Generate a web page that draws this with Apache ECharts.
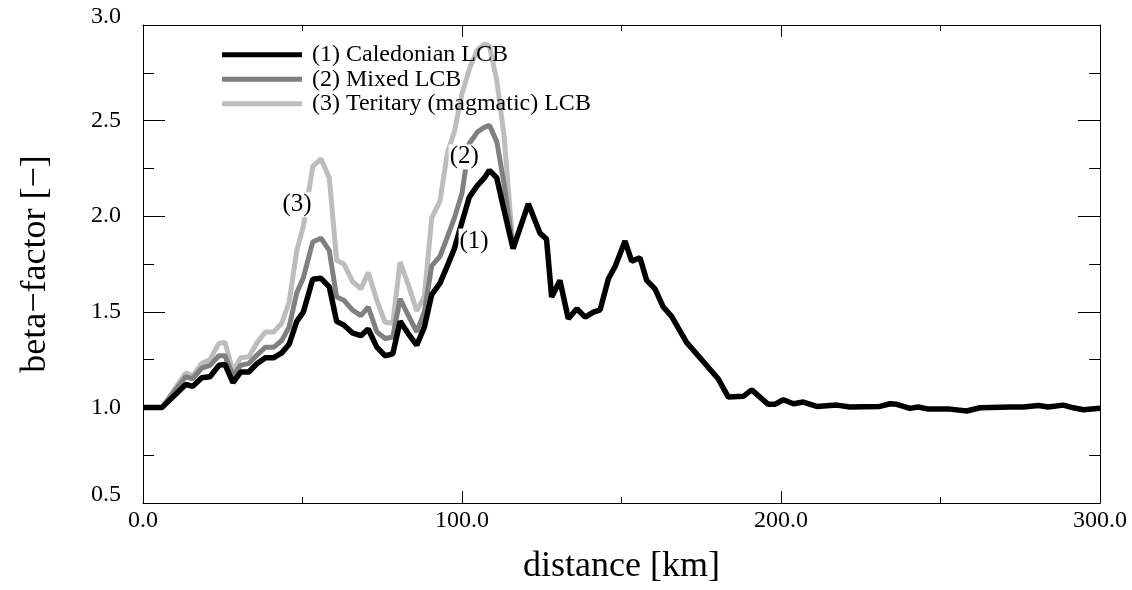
<!DOCTYPE html>
<html>
<head>
<meta charset="utf-8">
<script src="https://cdn.jsdelivr.net/npm/echarts@6/dist/echarts.min.js"></script>
<style>html,body{margin:0;padding:0;background:#fff}#c{width:1132px;height:590px}</style>
</head>
<body>
<div id="c"></div>
<script>
// distance grid [km] shared by all three curves up to ~116 km
var distNear = [0, 6, 13.4, 15.6, 18.4, 21, 23.8, 25.7, 28.2, 30.6, 33.2, 35.8, 38.4, 41, 43.5, 45.8, 48.2, 50.3, 53.2, 55.8, 58.4, 60.7, 63, 65.6, 68.3, 70.6, 73.3, 75.9, 78.3, 80.6, 83.2, 85.8, 88.2, 90.5, 93.1, 95.4, 97.6, 100, 102.3, 104.8, 107, 108.6, 110.9, 113.2, 116];
var caledonianNear = [1.0, 1.0, 1.12, 1.11, 1.155, 1.16, 1.22, 1.225, 1.13, 1.185, 1.185, 1.23, 1.26, 1.26, 1.285, 1.33, 1.45, 1.50, 1.67, 1.675, 1.63, 1.45, 1.43, 1.39, 1.375, 1.41, 1.315, 1.27, 1.28, 1.45, 1.385, 1.325, 1.42, 1.59, 1.65, 1.74, 1.83, 1.97, 2.1, 2.16, 2.2, 2.24, 2.2, 2.03, 1.83];
var mixed = [1.0, 1.0, 1.16, 1.15, 1.205, 1.22, 1.27, 1.27, 1.165, 1.22, 1.23, 1.275, 1.315, 1.315, 1.35, 1.42, 1.6, 1.68, 1.865, 1.885, 1.82, 1.577, 1.56, 1.51, 1.48, 1.525, 1.395, 1.36, 1.368, 1.568, 1.48, 1.395, 1.5, 1.74, 1.79, 1.89, 1.99, 2.12, 2.38, 2.44, 2.465, 2.475, 2.39, 2.17, 1.83];
var tertiary = [1.0, 1.0, 1.18, 1.165, 1.23, 1.25, 1.335, 1.34, 1.19, 1.26, 1.265, 1.34, 1.395, 1.395, 1.44, 1.55, 1.82, 1.95, 2.26, 2.3, 2.2, 1.77, 1.75, 1.66, 1.62, 1.705, 1.56, 1.445, 1.44, 1.76, 1.64, 1.505, 1.58, 1.99, 2.08, 2.33, 2.44, 2.64, 2.77, 2.87, 2.9, 2.89, 2.71, 2.42, 1.83];
// beyond 116 km all curves coincide with the Caledonian curve
var distFar = [120.8, 124.5, 126.5, 128.1, 130.7, 133.3, 136, 138.6, 141.2, 143.3, 145.9, 148, 151.1, 153.2, 155.8, 157.9, 160.5, 163.1, 165.7, 170.4, 180.3, 183.5, 188.2, 190.8, 196, 198.1, 200.7, 203.9, 207, 211.2, 217.5, 221.6, 231, 234.2, 236.3, 240.4, 243, 246.2, 253, 258.2, 262.4, 271.8, 276, 280.7, 283.8, 288.5, 291.6, 294.8, 300];
var caledonianFar = [2.065, 1.91, 1.88, 1.577, 1.664, 1.464, 1.516, 1.472, 1.498, 1.51, 1.673, 1.737, 1.87, 1.765, 1.783, 1.664, 1.62, 1.525, 1.476, 1.34, 1.15, 1.054, 1.058, 1.092, 1.016, 1.016, 1.04, 1.019, 1.028, 1.005, 1.012, 1.002, 1.005, 1.019, 1.016, 0.995, 1.002, 0.991, 0.991, 0.981, 0.998, 1.002, 1.002, 1.01, 1.002, 1.012, 0.998, 0.988, 0.995];

var seriesNames = ['(1) Caledonian LCB', '(2) Mixed LCB', '(3) Teritary (magmatic) LCB'];
var seriesColors = ['#000000', '#808080', '#bdbdbd'];

var labelX = [103.8, 100.7, 48.3];
var labelY = [1.87, 2.31, 2.06];
var labelText = ['(1)', '(2)', '(3)'];

var xTicks = [0, 100, 200, 300];
var yTicks = [0.5, 1.0, 1.5, 2.0, 2.5, 3.0];

function zip(xs, ys) { return xs.map(function (x, i) { return [x, ys[i]]; }); }

var s1 = zip(distNear, caledonianNear).concat(zip(distFar, caledonianFar));
var s2 = zip(distNear, mixed);
var s3 = zip(distNear, tertiary);
var labelData = labelX.map(function (x, i) { return [x, labelY[i], labelText[i]]; });

var FONT = 'Liberation Serif';
var chart = echarts.init(document.getElementById('c'), null, {renderer: 'canvas'});

function axisBase(pos, isX) {
  return {
    type: 'value',
    position: pos,
    min: isX ? xTicks[0] : yTicks[0],
    max: isX ? xTicks[xTicks.length - 1] : yTicks[yTicks.length - 1],
    interval: isX ? 100 : 0.5,
    axisLine: {show: true, onZero: false, lineStyle: {color: '#000', width: 1}},
    axisTick: {show: true, inside: true, length: isX ? 12 : 22, lineStyle: {color: '#000', width: 1}},
    minorTick: {show: true, splitNumber: 2, length: isX ? 6 : 11, lineStyle: {color: '#000', width: 1}},
    splitLine: {show: false},
    axisLabel: {show: false}
  };
}

var xBottom = axisBase('bottom', true);
xBottom.axisLabel = {show: true, fontFamily: FONT, fontSize: 24, color: '#000', margin: 6,
  formatter: function (v) { return v.toFixed(1); }};
xBottom.name = 'distance [km]';
xBottom.nameLocation = 'middle';
xBottom.nameGap = 46;
xBottom.nameTextStyle = {fontFamily: FONT, fontSize: 36, color: '#000'};

var xTop = axisBase('top', true);

var yLeft = axisBase('left', false);
yLeft.axisLabel = {show: true, fontFamily: FONT, fontSize: 24, color: '#000', margin: 22,
  formatter: function (v) {
    var s = v.toFixed(1);
    if (v === yTicks[0] || v === yTicks[yTicks.length - 1]) return '{e|' + s + '}';
    return s;
  },
  rich: {e: {fontFamily: FONT, fontSize: 24, color: '#000', padding: [0, 0, 17, 0]}}};
yLeft.name = 'beta\u2212factor [\u2212]';
yLeft.nameLocation = 'middle';
yLeft.nameGap = 89;
yLeft.nameTextStyle = {fontFamily: FONT, fontSize: 36, color: '#000'};

var yRight = axisBase('right', false);

chart.setOption({
  animation: false,
  backgroundColor: '#fff',
  grid: {left: 143, right: 32, top: 25, bottom: 87, containLabel: false},
  legend: {
    data: seriesNames,
    orient: 'vertical',
    left: 222,
    top: 42.5,
    padding: 0,
    itemWidth: 80,
    itemHeight: 5,
    itemGap: 0,
    icon: 'rect',
    itemStyle: {borderWidth: 0},
    textStyle: {fontFamily: FONT, fontSize: 24, color: '#000', lineHeight: 9, padding: [0, 0, 15.5, 5]}
  },
  xAxis: [xBottom, xTop],
  yAxis: [yLeft, yRight],
  series: [
    {name: seriesNames[0], type: 'line', data: s1, showSymbol: false, symbol: 'none', z: 5,
      lineStyle: {color: seriesColors[0], width: 5.5}, itemStyle: {color: seriesColors[0]}},
    {name: seriesNames[1], type: 'line', data: s2, showSymbol: false, symbol: 'none', z: 4,
      lineStyle: {color: seriesColors[1], width: 5}, itemStyle: {color: seriesColors[1]}},
    {name: seriesNames[2], type: 'line', data: s3, showSymbol: false, symbol: 'none', z: 3,
      lineStyle: {color: seriesColors[2], width: 5}, itemStyle: {color: seriesColors[2]}},
    {name: 'labels', type: 'scatter', data: labelData, symbolSize: 1, z: 10,
      itemStyle: {color: 'rgba(255,255,255,0)', opacity: 1},
      label: {show: true, position: 'inside', fontFamily: FONT, fontSize: 25, color: '#000',
        opacity: 1, textBorderWidth: 0, textBorderColor: 'transparent',
        backgroundColor: '#fff', padding: [0, 1, 0, 1],
        formatter: function (p) { return p.value[2]; }},
      emphasis: {disabled: true}, silent: true}
  ]
});
</script>
</body>
</html>
